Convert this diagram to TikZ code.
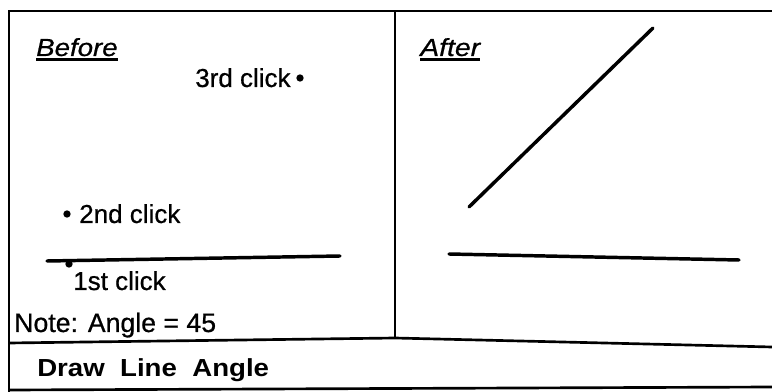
\documentclass[tikz,border=0pt]{standalone}
\usepackage{fontspec}
\setmainfont{Liberation Sans}
\newfontfamily\heavyfont[FakeBold=0.7]{Liberation Sans}
\newfontfamily\heavyital[FakeBold=0.6,ItalicFont={Liberation Sans Italic},UprightFont={Liberation Sans Italic}]{Liberation Sans}
\begin{document}
\begin{tikzpicture}[x=0.75pt,y=-0.75pt,
  frame/.style={line width=2pt},
  stroke/.style={line width=2.6pt, line cap=round},
  uline/.style={line width=1.6pt},
  lbl/.style={inner sep=0pt, anchor=base west, font=\heavyfont\fontsize{19.5}{22}\selectfont},
  head/.style={inner sep=0pt, anchor=base west, font=\heavyital\fontsize{18.5}{20}\selectfont},
  dotm/.style={circle, fill=black, inner sep=0pt, minimum size=5.5pt}]
\useasboundingbox (0,0) rectangle (772,392);
% frame
\draw[frame] (772,11) -- (9,11) -- (9,392);
\draw[frame] (395,11) -- (395,339);
\draw[frame] (9,343) -- (395,338) -- (772,347);
\draw[frame] (9,390) -- (772,387);
% Before panel
\node[head] (before) at (36,56) {\scalebox{1.12}[1]{Before}};
\draw[uline] ([yshift=-2.2pt]before.south west) -- ([yshift=-2.2pt]before.south east);
\node[lbl] (third) at (195,87) {3rd click};
\node[dotm] (d3) at (300,78) {};
\node[dotm] (d2) at (67,214) {};
\node[lbl] (second) at (79,223) {2nd click};
\coordinate (l1a) at (47,261);
\coordinate (l1b) at (340,256);
\draw[stroke] (l1a) -- (l1b);
\node[dotm] (d1) at (69,264) {};
\node[lbl] (first) at (73,290) {1st click};
\node[lbl, font=\heavyfont\fontsize{20}{22}\selectfont] (note) at (14,332) {Note: Angle = 45};
% title
\node[lbl, font=\fontsize{18.5}{20}\selectfont\bfseries] (title) at (37,376) {\scalebox{1.12}[1]{Draw\ \ Line\ \ Angle}};
% After panel
\node[head] (after) at (420,56) {\scalebox{1.15}[1]{After}};
\draw[uline] ([yshift=-2.2pt]after.south west) -- ([yshift=-2.2pt]after.south east);
\coordinate (diagA) at (469,207);
\coordinate (diagB) at (653,28);
\draw[stroke] (diagA) -- (diagB);
\coordinate (horA) at (449,254);
\coordinate (horB) at (739,260);
\draw[stroke] (horA) -- (horB);
\end{tikzpicture}
\end{document}
